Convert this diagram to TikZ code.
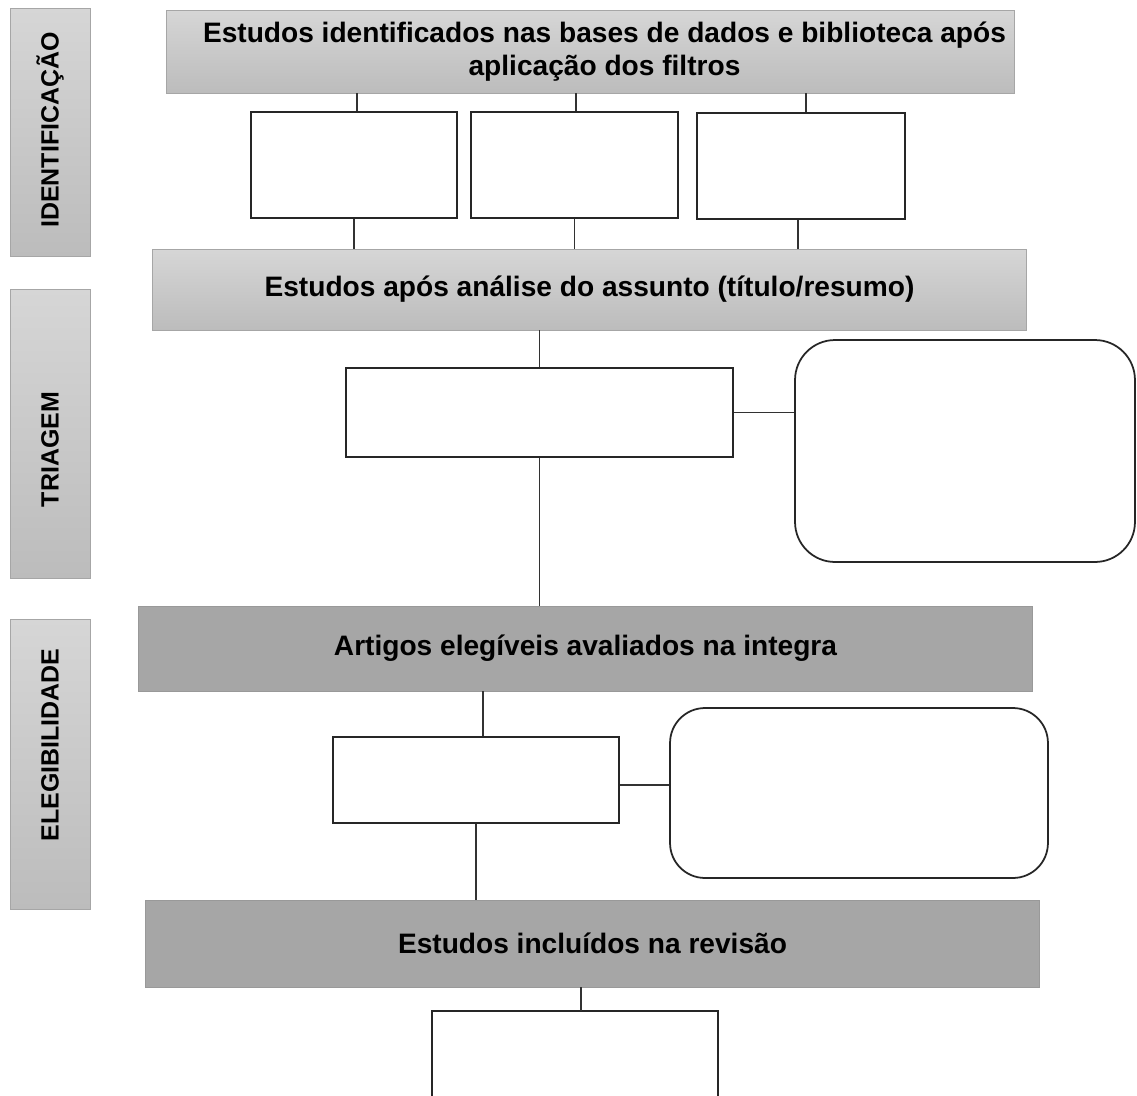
\documentclass[tikz,border=0pt]{standalone}
\usepackage{fontspec}
\setmainfont{Liberation Sans}
\definecolor{gtop}{RGB}{214,214,214}
\definecolor{gbot}{RGB}{188,188,188}
\definecolor{dgray}{RGB}{166,166,166}
\definecolor{lin}{RGB}{50,50,50}
\begin{document}
\begin{tikzpicture}[x=0.02cm,y=-0.02cm,
  gbox/.style={draw=gray!70,line width=0.5pt,top color=gtop,bottom color=gbot,align=center,font=\fontsize{16}{18.5}\selectfont\bfseries,inner sep=0pt},
  dbox/.style={draw=gray!80,line width=0.5pt,fill=dgray,align=center,font=\fontsize{16}{18.5}\selectfont\bfseries,inner sep=0pt},
  sbox/.style={draw=gray!70,line width=0.5pt,top color=gtop,bottom color=gbot,minimum width=1.6cm,inner sep=0pt},
  slabel/.style={rotate=90,font=\fontsize{14.2}{16}\selectfont\bfseries},
  wbox/.style={draw=black!85,line width=1pt,fill=white,inner sep=0pt},
  rbox/.style={draw=black!85,line width=1pt,fill=white,inner sep=0pt,rounded corners=0.8cm},
  conn/.style={draw=lin,line width=1.1pt}]
\useasboundingbox (0,0) rectangle (1137,1096);
% side boxes
\node[sbox,minimum height=4.96cm] (sid) at (50,132) {};
\node[slabel] (sidt) at ([yshift=0.04cm]sid.center) {IDENTIFICAÇÃO};
\node[sbox,minimum height=5.78cm] (str) at (50,433.5) {};
\node[slabel] (strt) at ([yshift=-0.32cm]str.center) {TRIAGEM};
\node[sbox,minimum height=5.8cm] (sel) at (50,764) {};
\node[slabel] (selt) at ([yshift=0.38cm]sel.center) {ELEGIBILIDADE};
% top
\node[gbox,minimum width=16.98cm,minimum height=1.66cm] (top) at (590.5,51.5) {};
\node[align=center,font=\fontsize{16}{18.5}\selectfont\bfseries,inner sep=0pt] (topt) at ([xshift=0.28cm]top.center) {Estudos identificados nas bases de dados e biblioteca após\\aplicação dos filtros};
\node[wbox,minimum width=4.12cm,minimum height=2.12cm] (b1) at (354,165) {};
\node[wbox,minimum width=4.14cm,minimum height=2.12cm] (b2) at (574.5,165) {};
\node[wbox,minimum width=4.16cm,minimum height=2.12cm] (b3) at (801,166) {};
\node[gbox,minimum width=17.5cm,minimum height=1.62cm] (sec) at (589.5,289.5) {Estudos após análise do assunto (título/resumo)};
\draw[conn] ([xshift=0.06cm]b1.north) -- ([xshift=0.06cm]b1.north |- top.south);
\draw[conn] ([xshift=0.03cm]b2.north) -- ([xshift=0.03cm]b2.north |- top.south);
\draw[conn] ([xshift=0.1cm]b3.north) -- ([xshift=0.1cm]b3.north |- top.south);
\draw[conn] (b1.south) -- (b1.south |- sec.north);
\draw[conn] (b2.south) -- (b2.south |- sec.north);
\draw[conn] ([xshift=-0.06cm]b3.south) -- ([xshift=-0.06cm]b3.south |- sec.north);
% triagem
\node[wbox,minimum width=7.74cm,minimum height=1.78cm] (bt) at (539.5,412.5) {};
\node[rbox,minimum width=6.8cm,minimum height=4.44cm] (rt) at (965,451) {};
\draw[conn] (bt.north) -- (bt.north |- sec.south);
\draw[conn] (bt.east) -- (bt.east -| rt.west);
\node[dbox,minimum width=17.9cm,minimum height=1.7cm] (art) at (585.5,648.5) {Artigos elegíveis avaliados na integra};
\draw[conn] (bt.south) -- (bt.south |- art.north);
% elegibilidade
\node[wbox,minimum width=5.72cm,minimum height=1.72cm] (be) at (476,780) {};
\node[rbox,rounded corners=0.7cm,minimum width=7.56cm,minimum height=3.4cm] (re) at (859,793) {};
\draw[conn] ([xshift=0.14cm]be.north) -- ([xshift=0.14cm]be.north |- art.south);
\draw[conn] ([yshift=-0.1cm]be.east) -- ([yshift=-0.1cm]be.east -| re.west);
\node[dbox,minimum width=17.9cm,minimum height=1.74cm] (inc) at (592.5,943.5) {Estudos incluídos na revisão};
\draw[conn] (be.south) -- (be.south |- inc.north);
% bottom
\node[inner sep=0pt,minimum width=5.72cm,minimum height=1.9cm] (bb) at (575,1058.5) {};
\draw[draw=black!85,line width=1pt] (bb.south west) -- (bb.north west) -- (bb.north east) -- (bb.south east);
\draw[conn] ([xshift=0.12cm]bb.north) -- ([xshift=0.12cm]bb.north |- inc.south);
\end{tikzpicture}
\end{document}
